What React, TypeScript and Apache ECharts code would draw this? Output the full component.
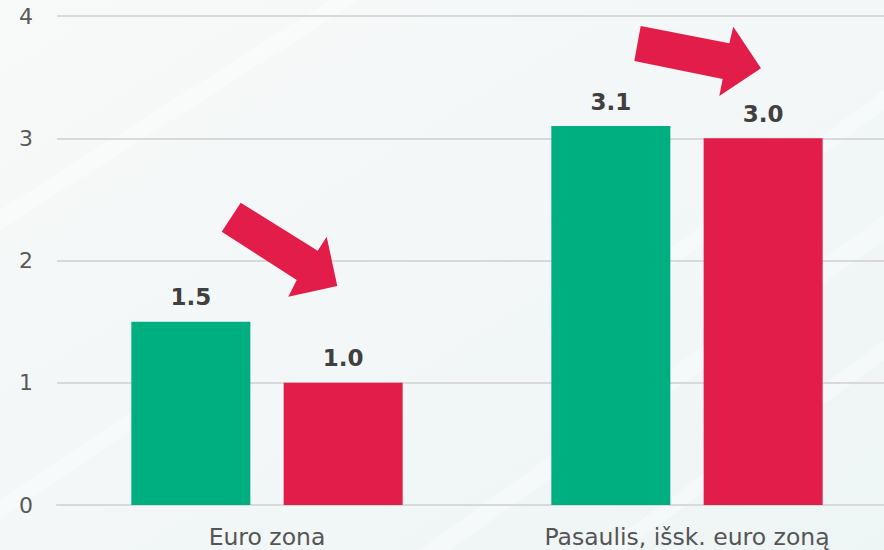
import React, { useEffect, useRef } from "react";
import * as echarts from "echarts";

const categories = ["Euro zona", "Pasaulis, išsk. euro zoną"];
const seriesGreen = [1.5, 3.1];
const seriesRed = [1.0, 3.0];
const yTicks = [0, 1, 2, 3, 4];

const GREEN = "#00AF80";
const RED = "#E31D4A";

// decorative arrows (pixel polygons)
const arrows: number[][][] = [
  [
    [240.7, 202.7], [317.7, 250.7], [326.7, 236.7], [337.3, 286],
    [288.3, 296.7], [296.7, 280], [221.7, 231.7],
  ],
  [
    [640.7, 26], [729.3, 43.3], [733.3, 26.7], [761, 68.3],
    [719.3, 96], [722.7, 79], [634.3, 61],
  ],
];

// faint white background streaks
const streaks: number[][][] = [
  [[0, 230], [0, 210], [330, 0], [360, 0]],
  [[420, 550], [450, 550], [884, 240], [884, 215]],
  [[560, 330], [585, 330], [884, 110], [884, 90]],
  [[0, 520], [0, 500], [150, 400], [175, 400]],
  [[600, 550], [625, 550], [884, 360], [884, 340]],
];

export default function App() {
  const ref = useRef<HTMLDivElement>(null);
  useEffect(() => {
    document.body.style.margin = "0";
    const chart = echarts.init(ref.current!, null, { renderer: "svg" });
    const font = "'DejaVu Sans', Verdana, sans-serif";
    chart.setOption({
      animation: false,
      backgroundColor: {
        type: "linear", x: 0, y: 0, x2: 1, y2: 1,
        colorStops: [
          { offset: 0, color: "#f8f9f9" },
          { offset: 1, color: "#eef5f5" },
        ],
      },
      grid: {
        left: 57, top: 16, bottom: 45, width: 840,
        containLabel: false, outerBoundsMode: "none",
      },
      xAxis: {
        type: "category",
        data: categories,
        axisTick: { show: false },
        axisLine: { show: true, lineStyle: { color: "#d9d9d9", width: 2 } },
        axisLabel: { color: "#555555", fontSize: 23.5, fontFamily: font, margin: 20 },
      },
      yAxis: {
        type: "value",
        min: yTicks[0],
        max: yTicks[yTicks.length - 1],
        interval: 1,
        axisLine: { show: false },
        axisTick: { show: false },
        splitLine: { lineStyle: { color: "#d9d9d9", width: 2 } },
        axisLabel: { color: "#595959", fontSize: 22, fontFamily: font, margin: 24 },
      },
      series: [
        {
          type: "bar",
          data: seriesGreen,
          barWidth: 119,
          barGap: "28%",
          itemStyle: { color: GREEN },
          label: {
            show: true, position: "top", distance: 13,
            formatter: (p: any) => Number(p.value).toFixed(1),
            color: "#404040", fontSize: 23, fontWeight: "bold", fontFamily: font,
          },
        },
        {
          type: "bar",
          data: seriesRed,
          barWidth: 119,
          itemStyle: { color: RED },
          label: {
            show: true, position: "top", distance: 13,
            formatter: (p: any) => Number(p.value).toFixed(1),
            color: "#404040", fontSize: 23, fontWeight: "bold", fontFamily: font,
          },
        },
      ],
      graphic: [
        ...streaks.map((pts) => ({
          type: "polygon",
          silent: true,
          z: -10,
          shape: { points: pts },
          style: { fill: "rgba(255,255,255,0.35)" },
        })),
        ...arrows.map((pts) => ({
          type: "polygon",
          shape: { points: pts },
          style: { fill: RED },
          z: 100,
        })),
      ],
    });
    return () => chart.dispose();
  }, []);
  return <div ref={ref} style={{ width: 884, height: 550 }} />;
}
